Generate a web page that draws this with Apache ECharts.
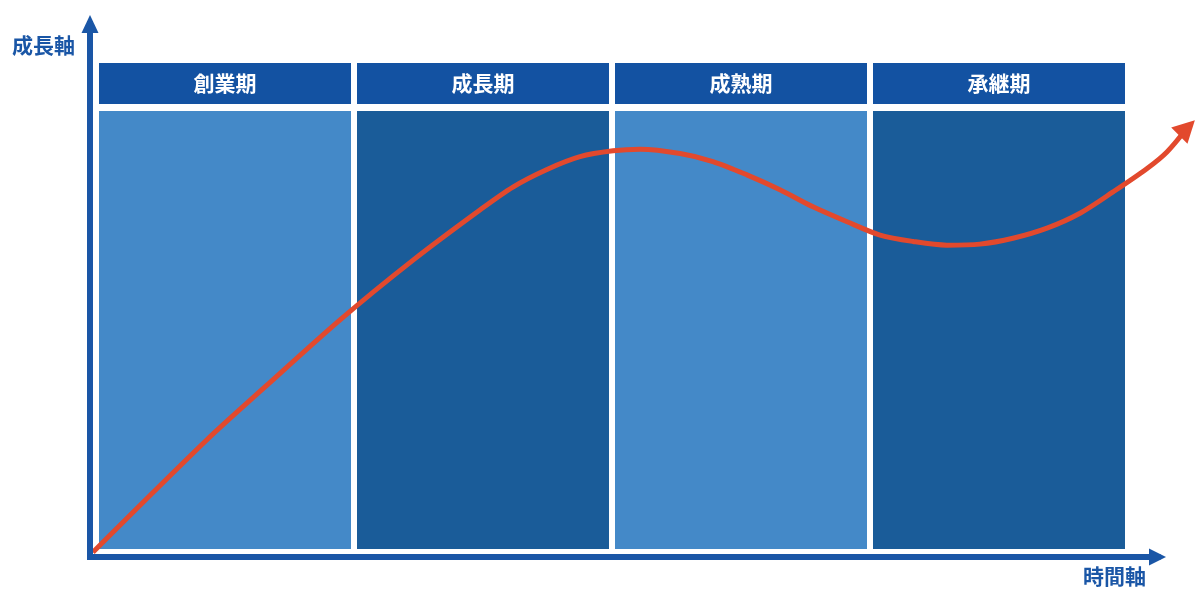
<!DOCTYPE html>
<html><head><meta charset="utf-8">
<script src="https://cdn.jsdelivr.net/npm/echarts@6/dist/echarts.min.js"></script>
<style>html,body{margin:0;padding:0;background:#fff}#c{width:1200px;height:600px}</style>
</head><body><div id="c"></div>
<script>
// ---- data ----
const phases = ['創業期', '成長期', '成熟期', '承継期'];
const phaseStart = [0, 1, 2, 3];
const phaseEnd = [1, 2, 3, 4];
const curveX = [-0.012, 0.43, 0.655, 0.946, 1.229, 1.488, 1.616, 1.748, 1.876, 2.004, 2.109, 2.264, 2.391, 2.523, 2.651, 2.779, 2.911, 3.039, 3.167, 3.298, 3.426, 3.554, 3.686, 3.814, 3.942, 4.074, 4.151, 4.229];
const curveY = [0.9, 22.0, 31.9, 44.5, 55.7, 65.1, 69.4, 72.7, 75.1, 76.2, 76.5, 75.7, 74.2, 71.7, 68.9, 65.7, 62.9, 60.4, 59.2, 58.5, 58.7, 59.8, 61.7, 64.5, 68.5, 72.9, 76.0, 80.5];
const xAxisName = '時間軸';
const yAxisName = '成長軸';

// ---- layout / style ----
const FONT = '"Noto Sans CJK JP", "Noto Sans", sans-serif';
const AXIS_BLUE = '#1a56a6';
const RED = '#e2492d';
const LEFT = 90, TOP = 24, BOTTOM = 43;
const AXIS_RIGHT = 42.5;      // visible axis grid
const DATA_RIGHT = 0;         // data grid (same scale, wider so nothing is clipped)
const PHASE_PX = 258;
const X_MIN = -6 / PHASE_PX;
const X_MAX_AXIS = X_MIN + (1200 - LEFT - AXIS_RIGHT) / PHASE_PX;
const X_MAX_DATA = X_MIN + (1200 - LEFT - DATA_RIGHT) / PHASE_PX;
const BODY_TOP = 83.7;

const chart = echarts.init(document.getElementById('c'), null, { renderer: 'canvas' });

const phaseData = phases.map((p, i) => [phaseStart[i], phaseEnd[i], p]);
const curveData = curveX.map((x, i) => [x, curveY[i]]);
const lastIdx = curveData.length - 1;

function renderPhase(params, api) {
  const s = api.value(0), e = api.value(1);
  const name = phases[params.dataIndex];
  const pBL = api.coord([s, 0]);
  const pTR = api.coord([e, BODY_TOP]);
  const x0 = pBL[0] + 3, x1 = pTR[0] - 3;
  const yb = pBL[1] - 8, yt = pTR[1];
  const hb = yt - 7, ht = hb - 41;
  const light = params.dataIndex % 2 === 0;
  return {
    type: 'group',
    children: [
      { type: 'rect', shape: { x: x0, y: yt, width: x1 - x0, height: yb - yt },
        style: { fill: light ? '#4489c8' : '#1a5c99' } },
      { type: 'rect', shape: { x: x0, y: ht, width: x1 - x0, height: hb - ht },
        style: { fill: '#1352a2' } },
      { type: 'text', x: (x0 + x1) / 2, y: (ht + hb) / 2,
        style: { text: name, fill: '#fff', font: 'bold 21px ' + FONT, align: 'center', verticalAlign: 'middle' } }
    ]
  };
}

const hiddenAxis = { axisLine: { show: false }, axisTick: { show: false }, axisLabel: { show: false }, splitLine: { show: false } };

chart.setOption({
  animation: false,
  backgroundColor: '#fff',
  grid: [
    { left: LEFT, right: AXIS_RIGHT, top: TOP, bottom: BOTTOM },
    { left: LEFT, right: DATA_RIGHT, top: TOP, bottom: BOTTOM }
  ],
  xAxis: [
    { type: 'value', gridIndex: 0, min: X_MIN, max: X_MAX_AXIS, z: 10,
      axisLine: { show: true, onZero: false, symbol: ['none', 'triangle'], symbolSize: [17, 17],
        lineStyle: { color: AXIS_BLUE, width: 6, cap: 'square' } },
      axisTick: { show: false }, axisLabel: { show: false }, splitLine: { show: false } },
    Object.assign({ type: 'value', gridIndex: 1, min: X_MIN, max: X_MAX_DATA }, hiddenAxis)
  ],
  yAxis: [
    { type: 'value', gridIndex: 0, min: 0, max: 100, z: 10,
      axisLine: { show: true, onZero: false, symbol: ['none', 'triangle'], symbolSize: [17, 18],
        lineStyle: { color: AXIS_BLUE, width: 6, cap: 'square' } },
      axisTick: { show: false }, axisLabel: { show: false }, splitLine: { show: false } },
    Object.assign({ type: 'value', gridIndex: 1, min: 0, max: 100 }, hiddenAxis)
  ],
  graphic: [
    { type: 'text', left: 12, top: 35, style: { text: yAxisName, fill: AXIS_BLUE, font: 'bold 21px ' + FONT } },
    { type: 'text', left: 1083, top: 566, style: { text: xAxisName, fill: AXIS_BLUE, font: 'bold 21px ' + FONT } }
  ],
  series: [
    { type: 'custom', xAxisIndex: 1, yAxisIndex: 1, renderItem: renderPhase, data: phaseData, z: 1, silent: true },
    { type: 'line', xAxisIndex: 1, yAxisIndex: 1, data: curveData, smooth: 0.3, showSymbol: false, z: 5, silent: true,
      lineStyle: { color: RED, width: 5 } },
    { type: 'scatter', xAxisIndex: 1, yAxisIndex: 1, data: [curveData[lastIdx]], symbol: 'triangle', symbolSize: [23, 22], z: 6,
      silent: true, itemStyle: { color: RED, opacity: 1 } }
  ]
});

// orient the arrowhead along the final segment of the curve
const pA = chart.convertToPixel({ xAxisIndex: 1, yAxisIndex: 1 }, curveData[lastIdx - 1]);
const pB = chart.convertToPixel({ xAxisIndex: 1, yAxisIndex: 1 }, curveData[lastIdx]);
const ang = Math.atan2(pA[1] - pB[1], pB[0] - pA[0]) * 180 / Math.PI;
chart.setOption({ series: [{}, {}, { symbolRotate: ang - 90 - 5 }] });
</script>
</body></html>
